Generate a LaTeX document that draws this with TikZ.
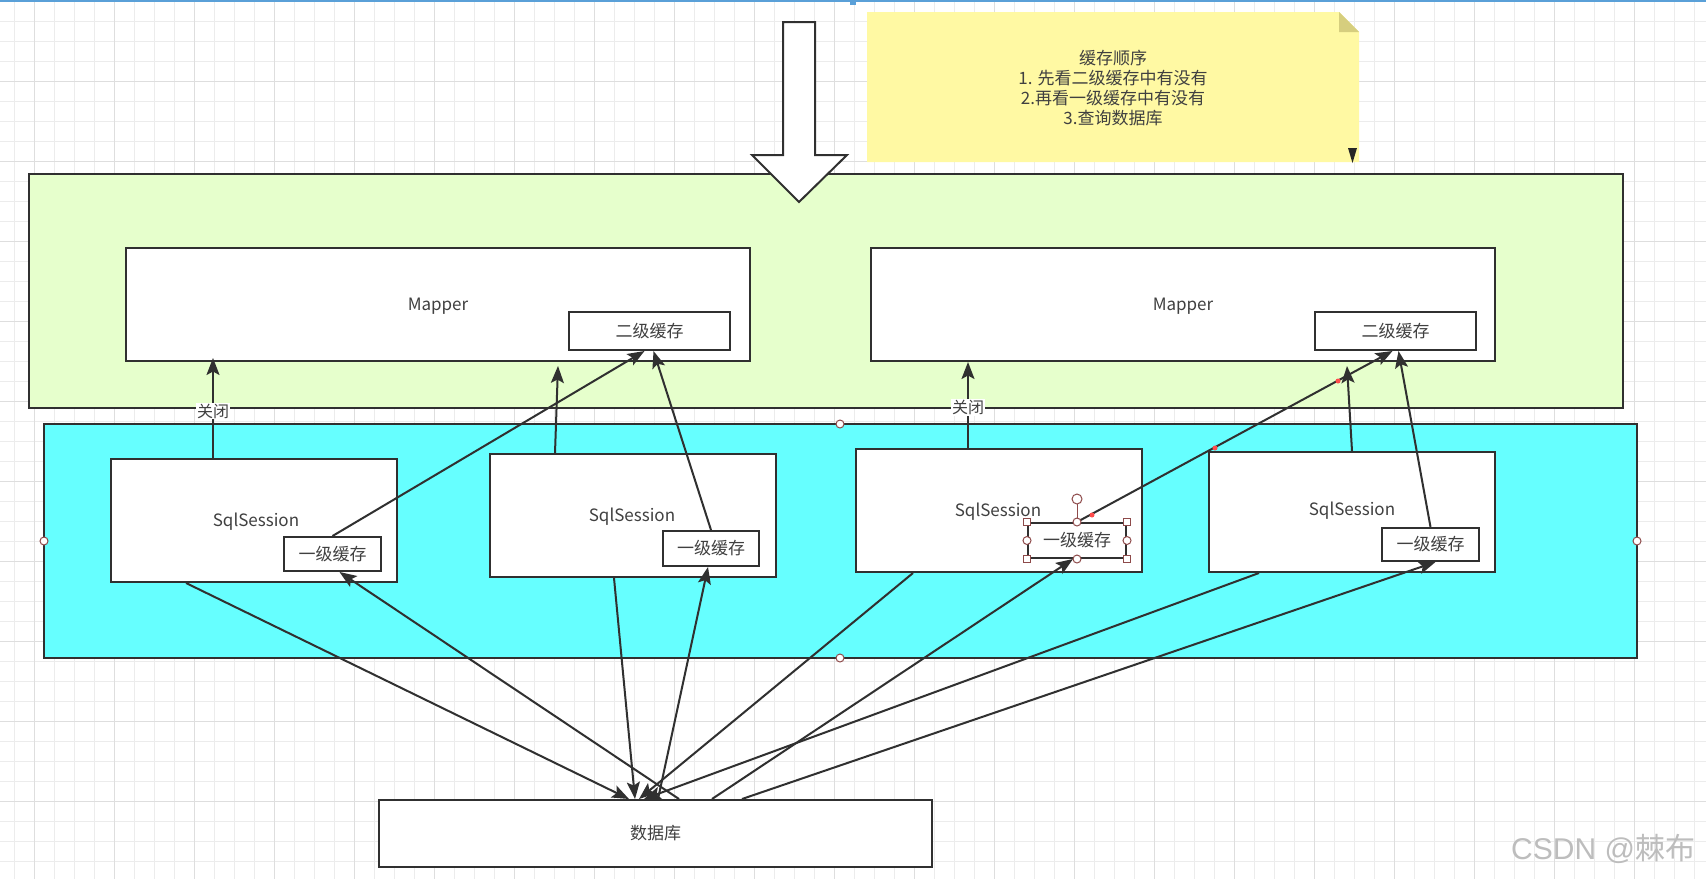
\documentclass[tikz,border=0pt]{standalone}
\usepackage{fontspec}
\setmainfont{Noto Sans CJK SC}
\newfontfamily\wmfont{Liberation Sans}
\newfontfamily\wmcjk{Noto Sans CJK SC}
\usetikzlibrary{arrows.meta,calc}
\definecolor{ln}{HTML}{303030}
\definecolor{txt}{HTML}{404040}
\definecolor{gfill}{HTML}{E6FFCC}
\definecolor{cfill}{HTML}{66FFFF}
\definecolor{nfill}{HTML}{FFF9A3}
\definecolor{nfold}{HTML}{D6CE7E}
\definecolor{gridmin}{HTML}{ECECEC}
\definecolor{gridmaj}{HTML}{DEDEDE}
\definecolor{hd}{HTML}{8E4A4A}
\definecolor{topblue}{HTML}{5AA0D8}
\definecolor{wm}{HTML}{BDBDBD}
\newcommand{\fsz}{\fontsize{17}{20}\selectfont}
\newcommand{\fsl}{\fontsize{16}{18}\selectfont}
\begin{document}
\begin{tikzpicture}[x=1pt,y=-1pt,
  box/.style={draw=ln,line width=2pt,fill=white,inner sep=0pt,text=txt,font=\fsz},
  area/.style={draw=ln,line width=2pt,inner sep=0pt},
  arr/.style={draw=ln,line width=2pt,-{Stealth[length=17pt,width=13pt,inset=3.5pt]}},
  lbl/.style={fill=white,inner sep=1pt,text=txt,font=\fsl},
  hdl/.style={draw=hd,fill=white,line width=1pt},
]
\useasboundingbox (0,0) rectangle (1706,879);
\fill[white] (0,0) rectangle (1706,879);
% grid
\foreach \x in {14,34,...,1706} \draw[gridmin,line width=1pt] (\x,0) -- (\x,879);
\foreach \y in {21,41,...,879} \draw[gridmin,line width=1pt] (0,\y) -- (1706,\y);
\foreach \x in {34,114,...,1706} \draw[gridmaj,line width=1pt] (\x,0) -- (\x,879);
\foreach \y in {81,161,...,879} \draw[gridmaj,line width=1pt] (0,\y) -- (1706,\y);
\fill[topblue] (0,0) rectangle (1706,2);
\fill[topblue] (850,0) rectangle (856,5);

% note
\fill[nfill] (867,12) -- (1339,12) -- (1359,32) -- (1359,162) -- (867,162) -- cycle;
\fill[nfold] (1339,12) -- (1359,32) -- (1339,32) -- cycle;
\fill[black!85] (1348,148) -- (1357,148) -- (1352.5,163) -- cycle;
\node[inner sep=0pt,align=center,text=txt,font=\fsz] (note) at (1113,88)
  {缓存顺序\\1. 先看二级缓存中有没有\\2.再看一级缓存中有没有\\3.查询数据库};

% areas
\node[area,fill=gfill,minimum width=1594pt,minimum height=234pt] (green) at (826,291) {};
\node[area,fill=cfill,minimum width=1593pt,minimum height=234pt] (cyan) at (840.5,541) {};

% big hollow arrow
\draw[ln,line width=2pt,fill=white,line join=miter]
  (783,22) -- (815,22) -- (815,155) -- (847,155) -- (799,202) -- (752,155) -- (783,155) -- cycle;

% mappers
\node[box,minimum width=624pt,minimum height=113pt] (mapL) at (438,304.5) {};
\node[text=txt,font=\fsz] (mapLt) at (438,306) {Mapper};
\node[box,minimum width=161pt,minimum height=38pt] (l2L) at (649.5,331) {二级缓存};
\node[box,minimum width=624pt,minimum height=113pt] (mapR) at (1183,304.5) {};
\node[text=txt,font=\fsz] (mapRt) at (1183,306) {Mapper};
\node[box,minimum width=161pt,minimum height=38pt] (l2R) at (1395.5,331) {二级缓存};

% sessions
\node[box,minimum width=286pt,minimum height=123pt] (s1) at (254,520.5) {};
\node[text=txt,font=\fsz] (s1t) at (256,522) {SqlSession};
\node[box,minimum width=97pt,minimum height=34pt] (c1) at (332.5,554) {一级缓存};
\node[box,minimum width=286pt,minimum height=123pt] (s2) at (633,515.5) {};
\node[text=txt,font=\fsz] (s2t) at (632,517) {SqlSession};
\node[box,minimum width=96pt,minimum height=35pt] (c2) at (711,548.5) {一级缓存};
\node[box,minimum width=286pt,minimum height=123pt] (s3) at (999,510.5) {};
\node[text=txt,font=\fsz] (s3t) at (998,512) {SqlSession};
\node[box,minimum width=98pt,minimum height=35pt] (c3) at (1077,540.5) {一级缓存};
\node[box,minimum width=286pt,minimum height=120pt] (s4) at (1352,512) {};
\node[text=txt,font=\fsz] (s4t) at (1352,511) {SqlSession};
\node[box,minimum width=97pt,minimum height=33pt] (c4) at (1430.5,544.5) {一级缓存};

% database
\node[box,minimum width=553pt,minimum height=67pt] (db) at (655.5,833.5) {数据库};

% upper connectors
\draw[arr] ([xshift=103pt]s1.north west) coordinate (k1) -- ([yshift=4pt]k1 |- mapL.south)
  node[lbl,pos=0.47] (lab1) {关闭};
\draw[arr] ([xshift=113pt]s3.north west) coordinate (k3) -- (k3 |- mapR.south)
  node[lbl,pos=0.47] (lab2) {关闭};
\draw[arr] ([xshift=66pt]s2.north west) -- ([xshift=433pt,yshift=-4pt]mapL.south west);
\draw[arr] (c1.north) -- ([xshift=-5pt]l2L.south);
\draw[arr] (c2.north) -- ([xshift=4pt]l2L.south);
\draw[arr] (s4.north) -- ([xshift=477pt,yshift=-4pt]mapR.south west);
\draw[arr] (c3.north) -- ([xshift=-3pt]l2R.south);
\draw[arr] (c4.north) -- ([xshift=3pt]l2R.south);

% lower connectors
\draw[arr] ([xshift=76pt]s1.south west) -- ([xshift=251pt]db.north west);
\draw[arr] ([xshift=301pt]db.north west) -- ([xshift=7pt]c1.south);
\draw[arr] ([xshift=125pt]s2.south west) -- ([xshift=257pt]db.north west);
\draw[arr] ([xshift=280pt]db.north west) -- ([xshift=-3pt]c2.south);
\draw[arr] ([xshift=58pt]s3.south west) -- ([xshift=261pt]db.north west);
\draw[arr] ([xshift=334pt]db.north west) -- ([xshift=-4pt]c3.south);
\draw[arr] ([xshift=51pt]s4.south west) -- ([xshift=266pt]db.north west);
\draw[arr] ([xshift=364pt]db.north west) -- ([xshift=5pt]c4.south);

% selection handles
\foreach \p in {(840,424),(840,658),(44,541),(1637,541)} \draw[hdl] \p circle (4pt);
\draw[hd,line width=1pt] (c3.north) -- ++(0,-18);
\draw[hdl] ($(c3.north)+(0,-23)$) circle (5pt);
\foreach \a in {north west,north east,south west,south east}
  \draw[hdl] ($(c3.\a)+(-3.5,-3.5)$) rectangle ++(7,7);
\foreach \a in {north,south,west,east} \draw[hdl] (c3.\a) circle (4pt);
\foreach \p in {(1092,515),(1215,448),(1338,381)} \fill[red!70!white] \p circle (2.5pt);

% watermark
\node[anchor=west,inner sep=0pt,text=wm] (wmk) at (1511,849)
  {\fontsize{30}{32}\selectfont\wmfont CSDN @\wmcjk 棘布};
\end{tikzpicture}
\end{document}
